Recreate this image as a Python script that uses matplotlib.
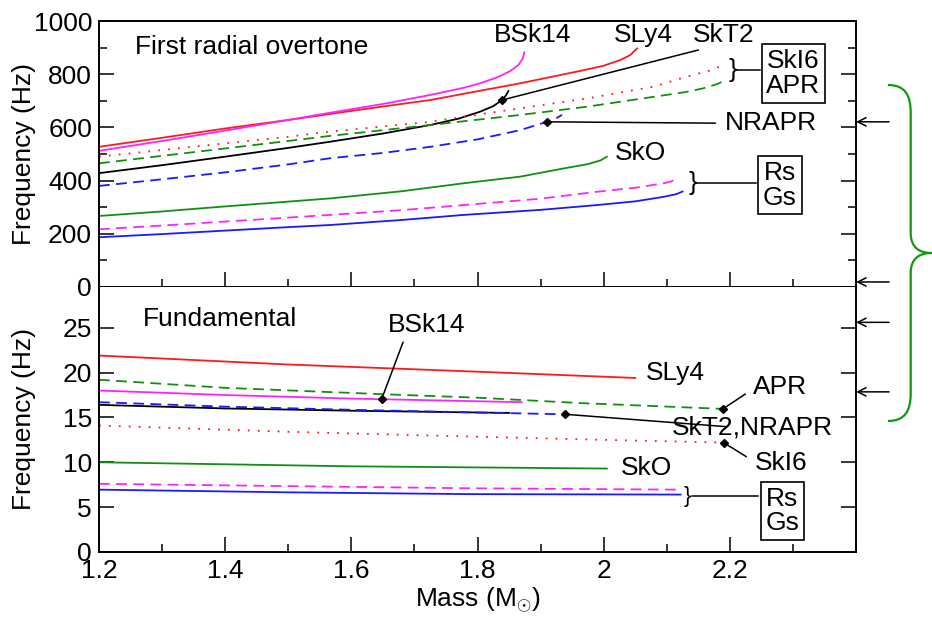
import numpy as np
import matplotlib
matplotlib.use("Agg")
import matplotlib.pyplot as plt
from matplotlib.path import Path
from matplotlib.patches import PathPatch
from matplotlib.ticker import MultipleLocator

plt.rcParams['font.family'] = ['Liberation Sans', 'DejaVu Sans']
plt.rcParams['mathtext.fontset'] = 'custom'
plt.rcParams['mathtext.rm'] = 'Liberation Sans'
plt.rcParams['mathtext.it'] = 'Liberation Sans'

FS = 19

# ---- first radial overtone (Hz) vs mass (Msun) ----
sly4_m1 = [1.2, 1.3, 1.4, 1.5, 1.6, 1.725, 1.868, 1.97, 2.0, 2.026, 2.042, 2.053]
sly4_f1 = [527, 561, 596, 628, 662, 703, 766, 816, 832, 853, 872, 897]
bsk14_m1 = [1.2, 1.3, 1.4, 1.5, 1.566, 1.65, 1.725, 1.78, 1.804, 1.83, 1.852, 1.865, 1.872, 1.874]
bsk14_f1 = [512, 549, 588, 628, 655, 688, 722, 750, 766, 787, 812, 835, 860, 882]
skt2_m1 = [1.2, 1.3, 1.4, 1.5, 1.566, 1.65, 1.725, 1.77, 1.804, 1.825, 1.839, 1.845, 1.849]
skt2_f1 = [428, 458, 490, 523, 546, 577, 609, 633, 659, 680, 703, 720, 737]
ski6_m1 = [1.2, 1.3, 1.4, 1.5, 1.566, 1.725, 1.868, 1.974, 2.079, 2.132, 2.17, 2.19]
ski6_f1 = [490, 515, 540, 565, 584, 621, 672, 709, 753, 791, 815, 835]
apr_m1 = [1.2, 1.3, 1.4, 1.5, 1.566, 1.725, 1.868, 1.974, 2.079, 2.13, 2.158, 2.18, 2.195]
apr_f1 = [465, 493, 521, 549, 568, 609, 647, 678, 715, 733, 747, 763, 780]
nrapr_m1 = [1.2, 1.3, 1.4, 1.5, 1.566, 1.65, 1.725, 1.8, 1.868, 1.91, 1.925, 1.934]
nrapr_f1 = [380, 405, 431, 461, 484, 504, 527, 555, 590, 621, 635, 647]
sko_m1 = [1.2, 1.3, 1.4, 1.5, 1.566, 1.68, 1.778, 1.868, 1.937, 1.975, 1.995, 2.005]
sko_f1 = [267, 284, 303, 321, 333, 360, 390, 415, 446, 462, 476, 490]
rs_m1 = [1.2, 1.3, 1.4, 1.5, 1.566, 1.68, 1.778, 1.9, 1.989, 2.05, 2.095, 2.107, 2.113]
rs_f1 = [217, 231, 246, 261, 271, 289, 308, 332, 358, 373, 390, 397, 404]
gs_m1 = [1.2, 1.3, 1.4, 1.5, 1.566, 1.68, 1.778, 1.9, 1.989, 2.05, 2.095, 2.115, 2.125]
gs_f1 = [187, 199, 212, 225, 233, 252, 271, 290, 308, 322, 339, 349, 359]

# ---- fundamental mode (Hz) ----
sly4_m0 = [1.2, 1.5, 1.8, 2.05]
sly4_f0 = [21.9, 20.9, 20.1, 19.4]
apr_m0 = [1.2, 1.4, 1.646, 1.8, 1.963, 2.19]
apr_f0 = [19.2, 18.3, 17.6, 17.2, 16.6, 15.95]
bsk14_m0 = [1.2, 1.4, 1.6, 1.87]
bsk14_f0 = [18.0, 17.5, 17.1, 16.7]
skt2_m0 = [1.2, 1.4, 1.6, 1.85]
skt2_f0 = [16.4, 16.0, 15.75, 15.5]
nrapr_m0 = [1.2, 1.4, 1.6, 1.868, 1.939]
nrapr_f0 = [16.7, 16.2, 15.85, 15.45, 15.35]
ski6_m0 = [1.2, 1.5, 1.8, 2.0, 2.19]
ski6_f0 = [14.1, 13.4, 12.85, 12.5, 12.2]
sko_m0 = [1.2, 1.6, 2.005]
sko_f0 = [10.0, 9.55, 9.3]
rs_m0 = [1.2, 1.789, 2.117]
rs_f0 = [7.6, 7.1, 6.95]
gs_m0 = [1.2, 1.5, 1.789, 2.122]
gs_f0 = [6.95, 6.65, 6.45, 6.4]

# frequencies marked by arrows on the right edge
arrows_top = [621]
arrows_bottom = [30.1, 25.6, 17.85]

RED, MAG, GRN, BLU, BLK = '#ff1a1a', '#ff22ff', '#109010', '#1a1aff', 'black'
solid = '-'
dashed = (0, (6, 3.5))
dotted = (0, (1, 4.5))
LW = 1.3

fig = plt.figure(figsize=(9.32, 6.2), dpi=100)
ax1 = fig.add_axes([0.1062, 0.5371, 0.8123, 0.4290])
ax2 = fig.add_axes([0.1062, 0.1097, 0.8123, 0.4274])

top_series = [
    (sly4_m1, sly4_f1, RED, solid), (bsk14_m1, bsk14_f1, MAG, solid),
    (skt2_m1, skt2_f1, BLK, solid), (ski6_m1, ski6_f1, RED, dotted),
    (apr_m1, apr_f1, GRN, dashed), (nrapr_m1, nrapr_f1, BLU, dashed),
    (sko_m1, sko_f1, GRN, solid), (rs_m1, rs_f1, MAG, dashed),
    (gs_m1, gs_f1, BLU, solid),
]
bottom_series = [
    (sly4_m0, sly4_f0, RED, solid), (apr_m0, apr_f0, GRN, dashed),
    (bsk14_m0, bsk14_f0, MAG, solid), (skt2_m0, skt2_f0, BLK, solid),
    (nrapr_m0, nrapr_f0, BLU, dashed), (ski6_m0, ski6_f0, RED, dotted),
    (sko_m0, sko_f0, GRN, solid), (rs_m0, rs_f0, MAG, dashed),
    (gs_m0, gs_f0, BLU, solid),
]
for m, f, c, ls in top_series:
    ax1.plot(m, f, color=c, ls=ls, lw=LW)
for m, f, c, ls in bottom_series:
    ax2.plot(m, f, color=c, ls=ls, lw=LW)

for ax in (ax1, ax2):
    ax.set_xlim(1.2, 2.4)
    ax.xaxis.set_major_locator(MultipleLocator(0.2))
    ax.xaxis.set_minor_locator(MultipleLocator(0.1))
    ax.tick_params(which='both', direction='in', left=True, right=True,
                   top=False, bottom=True, width=1.1, labelsize=FS, pad=5)
    ax.tick_params(which='major', length=11)
    ax.tick_params(which='minor', length=5.5)
    for s in ax.spines.values():
        s.set_linewidth(1.4)
    ax.set_ylabel('Frequency (Hz)', fontsize=FS)
    ax.yaxis.set_label_coords(-0.083, 0.5)

ax1.set_ylim(0, 1000)
ax1.yaxis.set_major_locator(MultipleLocator(200))
ax1.yaxis.set_minor_locator(MultipleLocator(100))
ax1.tick_params(labelbottom=False)

ax2.set_ylim(0, 29.54)
ax2.yaxis.set_major_locator(MultipleLocator(5))
ax2.set_xticks([1.2, 1.4, 1.6, 1.8, 2.0, 2.2])
ax2.set_xticklabels(['1.2', '1.4', '1.6', '1.8', '2', '2.2'])
ax2.spines['top'].set_visible(False)
ax2.set_xlabel(r'Mass (M$_{\odot}$)', fontsize=FS, labelpad=2)


def pointer(ax, text_xy, dot_x, m, f):
    # thin leader line ending in a small dot sitting on the curve
    dot_y = np.interp(dot_x, m, f)
    ax.annotate('', xy=(dot_x, dot_y), xytext=text_xy,
                arrowprops=dict(arrowstyle='-', color='k', lw=1.1,
                                shrinkA=0, shrinkB=0))
    ax.plot([dot_x], [dot_y], marker='D', ms=4, color='k')


box = dict(boxstyle='square,pad=0.18', fc='white', ec='k', lw=1.2)

# --- labels, upper panel ---
ax1.text(1.257, 902, 'First radial overtone', fontsize=FS, ha='left', va='center')
ax1.text(1.888, 947, 'BSk14', fontsize=FS, ha='center', va='center')
ax1.text(2.063, 947, 'SLy4', fontsize=FS, ha='center', va='center')
ax1.text(2.190, 947, 'SkT2', fontsize=FS, ha='center', va='center')
pointer(ax1, (2.150, 891), 1.839, skt2_m1, skt2_f1)
ax1.text(2.205, 816, '}', fontsize=FS, ha='center', va='center')
ax1.plot([2.212, 2.248], [816, 816], color='k', lw=1.1)
ax1.text(2.3007, 802, 'SkI6\nAPR', fontsize=FS, ha='center', va='center',
         linespacing=1.05, bbox=box)
ax1.text(2.265, 616, 'NRAPR', fontsize=FS, ha='center', va='center')
pointer(ax1, (2.177, 616), 1.910, nrapr_m1, nrapr_f1)
ax1.text(2.059, 504, 'SkO', fontsize=FS, ha='center', va='center')
ax1.text(2.141, 391, '}', fontsize=FS, ha='center', va='center')
ax1.plot([2.1485, 2.242], [391, 391], color='k', lw=1.1)
ax1.text(2.2793, 383, 'Rs\nGs', fontsize=FS, ha='center', va='center',
         linespacing=1.05, bbox=box)

# --- labels, lower panel ---
ax2.text(1.270, 25.97, 'Fundamental', fontsize=FS, ha='left', va='center')
ax2.text(1.720, 25.3, 'BSk14', fontsize=FS, ha='center', va='center')
pointer(ax2, (1.682, 23.4), 1.648, bsk14_m0, bsk14_f0)
ax2.text(2.113, 19.95, 'SLy4', fontsize=FS, ha='center', va='center')
ax2.text(2.279, 18.39, 'APR', fontsize=FS, ha='center', va='center')
pointer(ax2, (2.2246, 17.61), 2.189, apr_m0, apr_f0)
ax2.text(2.2365, 13.93, 'SkT2,NRAPR', fontsize=FS, ha='center', va='center')
pointer(ax2, (2.1945, 13.97), 1.939, nrapr_m0, nrapr_f0)
ax2.text(2.281, 9.92, 'SkI6', fontsize=FS, ha='center', va='center')
pointer(ax2, (2.2262, 10.62), 2.190, ski6_m0, ski6_f0)
ax2.text(2.068, 9.33, 'SkO', fontsize=FS, ha='center', va='center')
ax2.text(2.1334, 6.24, '}', fontsize=16, ha='center', va='center')
ax2.plot([2.1405, 2.2452], [6.24, 6.24], color='k', lw=1.1)
ax2.text(2.2833, 4.57, 'Rs\nGs', fontsize=FS, ha='center', va='center',
         linespacing=1.05, bbox=box)

# arrows pointing at the right-hand axis
arrow_kw = dict(arrowstyle='->,head_length=0.6,head_width=0.3', color='k', lw=1.1,
                shrinkA=0, shrinkB=0)
for ax, vals in ((ax1, arrows_top), (ax2, arrows_bottom)):
    for v in vals:
        ax.annotate('', xy=(1.0, v), xytext=(1.0436, v),
                    xycoords=('axes fraction', 'data'),
                    textcoords=('axes fraction', 'data'),
                    arrowprops=arrow_kw, annotation_clip=False)

# green curly brace spanning both panels (pixel positions -> figure fraction)
W, H = 932.0, 620.0
brace_px = [(888, 85), (905, 85), (910.7, 95), (910.7, 113),
            (910.7, 233),
            (910.7, 248), (920, 253), (931.5, 253),
            (920, 253), (910.7, 258), (910.7, 273),
            (910.7, 393),
            (910.7, 411), (905, 421), (888, 421)]
codes = [Path.MOVETO, Path.CURVE4, Path.CURVE4, Path.CURVE4,
         Path.LINETO,
         Path.CURVE4, Path.CURVE4, Path.CURVE4,
         Path.CURVE4, Path.CURVE4, Path.CURVE4,
         Path.LINETO,
         Path.CURVE4, Path.CURVE4, Path.CURVE4]
verts = [(x / W, 1 - y / H) for x, y in brace_px]
fig.patches.append(PathPatch(Path(verts, codes), transform=fig.transFigure,
                             fill=False, ec='#109a10', lw=1.6))

fig.savefig('out.png', dpi=100)
